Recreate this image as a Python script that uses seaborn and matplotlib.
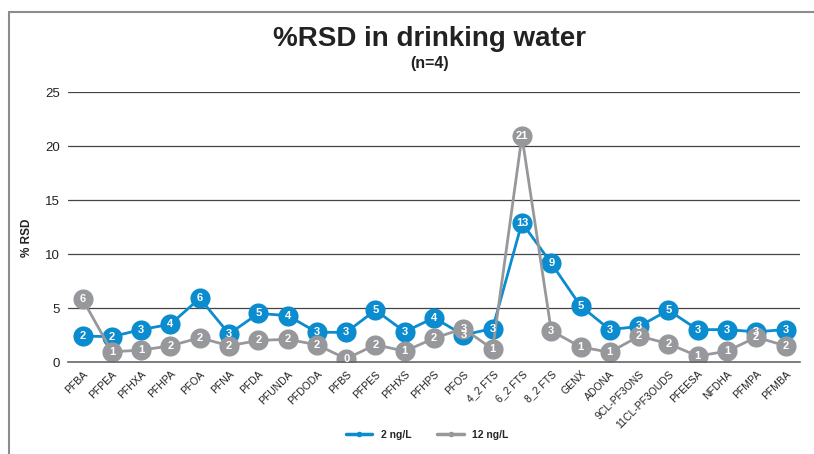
import numpy as np
import pandas as pd
import seaborn as sns
import matplotlib.pyplot as plt
from matplotlib.lines import Line2D

# data
compounds = ['PFBA', 'PFPEA', 'PFHXA', 'PFHPA', 'PFOA', 'PFNA', 'PFDA', 'PFUNDA', 'PFDODA',
             'PFBS', 'PFPES', 'PFHXS', 'PFHPS', 'PFOS', '4_2 FTS', '6_2 FTS', '8_2 FTS',
             'GENX', 'ADONA', '9CL-PF3ONS', '11CL-PF3OUDS', 'PFEESA', 'NFDHA', 'PFMPA', 'PFMBA']
rsd_2ng = [2.4, 2.35, 3.0, 3.5, 5.9, 2.6, 4.5, 4.3, 2.75,
           2.75, 4.8, 2.8, 4.1, 2.5, 3.1, 12.9, 9.15,
           5.2, 3.0, 3.3, 4.8, 3.0, 3.0, 2.8, 3.0]
rsd_12ng = [5.8, 0.95, 1.1, 1.5, 2.25, 1.5, 2.0, 2.1, 1.6,
            0.3, 1.6, 1.0, 2.2, 3.1, 1.2, 20.9, 2.9,
            1.4, 0.9, 2.4, 1.7, 0.55, 1.0, 2.3, 1.5]
series_names = ['2 ng/L', '12 ng/L']
series_colors = ['#0a8ccf', '#97989b']

df = pd.DataFrame({
    'compound': compounds * 2,
    'rsd': rsd_2ng + rsd_12ng,
    'level': [series_names[0]] * len(compounds) + [series_names[1]] * len(compounds),
})

sns.set_style('white')
plt.rcParams['font.family'] = ['Liberation Sans', 'DejaVu Sans']

fig = plt.figure(figsize=(8.14, 4.54), dpi=100)
ax = fig.add_axes([0.0835, 0.2026, 0.8995, 0.5947])

# horizontal grid lines
for yv in [5, 10, 15, 20, 25]:
    ax.axhline(yv, color='#444444', linewidth=0.9, zorder=0)

_ = sns.lineplot(df, x='compound', y='rsd', hue='level', palette=series_colors, ax=ax,
                 marker='o', markersize=14.5, linewidth=2.0, markeredgewidth=0,
                 sort=False, legend=False)

# value labels inside markers
for vals in [rsd_2ng, rsd_12ng]:
    for i, v in enumerate(vals):
        ax.text(i, v, f'{int(v + 0.5)}', ha='center', va='center', color='white',
                fontsize=8, fontweight='bold', zorder=10)

ax.set_xlim(-0.5, len(compounds) - 0.5)
ax.set_ylim(0, 25)
ax.set_yticks([0, 5, 10, 15, 20, 25])
ax.tick_params(axis='y', length=0, labelsize=9.5, pad=6, colors='#222222')
ax.tick_params(axis='x', length=0, pad=5)
ax.set_xticks(range(len(compounds)))
ax.set_xticklabels(compounds, rotation=45, ha='right', rotation_mode='anchor',
                   fontsize=7.5, color='#222222')
for s in ['top', 'right', 'left']:
    ax.spines[s].set_visible(False)
ax.spines['bottom'].set_color('#666666')
ax.spines['bottom'].set_linewidth(1.2)
ax.set_xlabel('')
ax.set_ylabel('% RSD', fontsize=8.5, fontweight='bold', color='#222222')
ax.yaxis.set_label_coords(-0.048, 0.46)

# titles
fig.text(0.528, 0.915, '%RSD in drinking water', ha='center', va='center',
         fontsize=20, fontweight='bold', color='#222222')
fig.text(0.528, 0.86, '(n=4)', ha='center', va='center',
         fontsize=11.5, fontweight='bold', color='#222222')

# legend
handles = [Line2D([0], [0], color=c, linewidth=2.5, marker='o', markersize=3) for c in series_colors]
leg = fig.legend(handles, series_names, loc='center', bbox_to_anchor=(0.525, 0.042), ncol=2,
                 frameon=False, handlelength=2.5, columnspacing=2.5, prop={'size': 7.5, 'weight': 'bold'})

# outer border (left and top only visible)
fig.add_artist(Line2D([0.0105, 0.0105], [0, 0.974], color='#8c8c8c', linewidth=1.5))
fig.add_artist(Line2D([0.0105, 1.0], [0.974, 0.974], color='#8c8c8c', linewidth=1.5))

plt.savefig('out.png', dpi=100)
plt.close(fig)
